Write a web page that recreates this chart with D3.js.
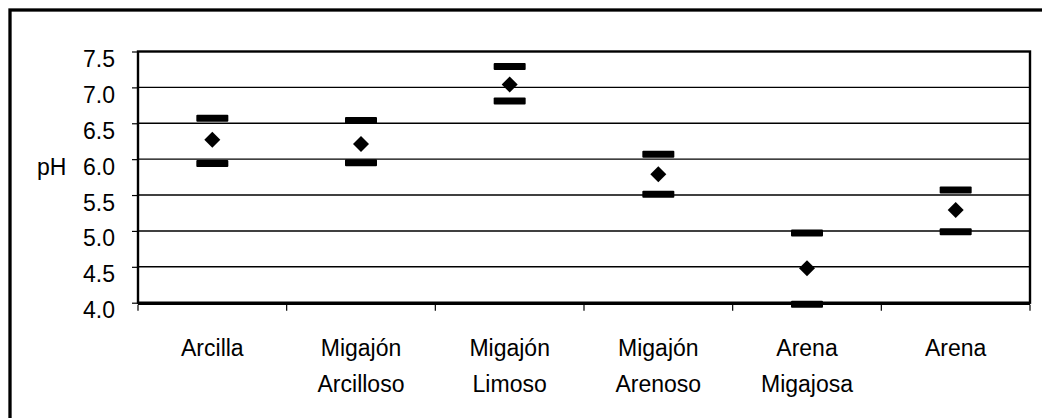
<!DOCTYPE html>
<html>
<head>
<meta charset="utf-8">
<script src="https://cdn.jsdelivr.net/npm/d3@7"></script>
<style>
  html, body { margin: 0; padding: 0; background: #fff; }
  svg { display: block; }
  text { font-family: "Liberation Sans", Arial, sans-serif; fill: #000; }
</style>
</head>
<body>
<svg id="chart" width="1042" height="418"></svg>
<script>
// Soil texture classes
const categories = ["Arcilla", "Migajón\nArcilloso", "Migajón\nLimoso", "Migajón\nArenoso", "Arena\nMigajosa", "Arena"];
// pH range per class: upper limit, mean, lower limit
const phHigh = [6.57, 6.54, 7.29, 6.07, 4.97, 5.57];
const phMean = [6.27, 6.21, 7.04, 5.79, 4.48, 5.29];
const phLow  = [5.94, 5.95, 6.81, 5.51, 3.98, 4.99];
// Y axis ticks
const yTicks = [4.0, 4.5, 5.0, 5.5, 6.0, 6.5, 7.0, 7.5];
const yLabel = "pH";

const svg = d3.select("#chart");
const plot = { left: 138, right: 1030, top: 51.5, bottom: 302.7 };

const x = d3.scaleBand().domain(categories).range([plot.left, plot.right]).padding(0);
const y = d3.scaleLinear().domain([4.0, 7.5]).range([plot.bottom, plot.top]);

// Outer frame
svg.append("rect")
  .attr("x", 10).attr("y", 10)
  .attr("width", 1200).attr("height", 600)
  .attr("fill", "none").attr("stroke", "#000").attr("stroke-width", 3.3);

// Horizontal gridlines
svg.append("g").selectAll("line")
  .data(yTicks.filter(t => t > 4.0 && t < 7.5))
  .join("line")
  .attr("x1", plot.left).attr("x2", plot.right)
  .attr("y1", d => y(d)).attr("y2", d => y(d))
  .attr("stroke", "#000").attr("stroke-width", 1.4);

// Plot frame
svg.append("rect")
  .attr("x", plot.left).attr("y", plot.top)
  .attr("width", plot.right - plot.left).attr("height", plot.bottom - plot.top)
  .attr("fill", "none").attr("stroke", "#000").attr("stroke-width", 2.4);
svg.append("line")
  .attr("x1", plot.left).attr("x2", plot.right)
  .attr("y1", plot.bottom + 0.8).attr("y2", plot.bottom + 0.8)
  .attr("stroke", "#000").attr("stroke-width", 3);

// Y axis: ticks and labels
const yAxis = d3.axisLeft(y)
  .tickValues(yTicks)
  .tickFormat(d3.format(".1f"))
  .tickSize(6)
  .tickPadding(17);
const gy = svg.append("g")
  .attr("transform", `translate(${plot.left},0)`)
  .call(yAxis);
gy.select(".domain").remove();
gy.selectAll(".tick line").attr("stroke", "#000").attr("stroke-width", 1.2);
gy.selectAll(".tick text")
  .attr("dy", 15)
  .style("font-size", "23px")
  .style("font-family", "'Liberation Sans', Arial, sans-serif");

// Y axis title
svg.append("text")
  .attr("x", 37).attr("y", y(6.0) + 15.5)
  .style("font-size", "23px")
  .text(yLabel);

// X axis ticks at category boundaries
const edges = categories.map(c => x(c)).concat([x.range()[1]]);
svg.append("g").selectAll("line")
  .data(edges)
  .join("line")
  .attr("x1", d => d).attr("x2", d => d)
  .attr("y1", plot.bottom + 2).attr("y2", plot.bottom + 8)
  .attr("stroke", "#000").attr("stroke-width", 1.2);

// X category labels (two lines)
const xl = svg.append("g").selectAll("text")
  .data(categories)
  .join("text")
  .attr("x", d => x(d) + x.bandwidth() / 2)
  .attr("y", 356)
  .attr("text-anchor", "middle")
  .style("font-size", "23px");
xl.selectAll("tspan")
  .data(d => d.split("\n").map(s => ({ s, x: x(d) + x.bandwidth() / 2 })))
  .join("tspan")
  .attr("x", d => d.x)
  .attr("dy", (d, i) => i === 0 ? 0 : 35.7)
  .text(d => d.s);

// Range limits as thick dashes
const barW = 32, barH = 7;
const cx = i => x(categories[i]) + x.bandwidth() / 2;
const marks = svg.append("g");
[phHigh, phLow].forEach(series => {
  marks.append("g").selectAll("rect")
    .data(series)
    .join("rect")
    .attr("x", (d, i) => cx(i) - barW / 2)
    .attr("y", d => y(d) - barH / 2)
    .attr("width", barW).attr("height", barH)
    .attr("rx", 1)
    .attr("fill", "#000");
});

// Mean values as diamonds
const diamond = d3.symbol().type(d3.symbolSquare).size(128);
marks.append("g").selectAll("path")
  .data(phMean)
  .join("path")
  .attr("d", diamond)
  .attr("transform", (d, i) => `translate(${cx(i)},${y(d)}) rotate(45)`)
  .attr("fill", "#000");
</script>
</body>
</html>
